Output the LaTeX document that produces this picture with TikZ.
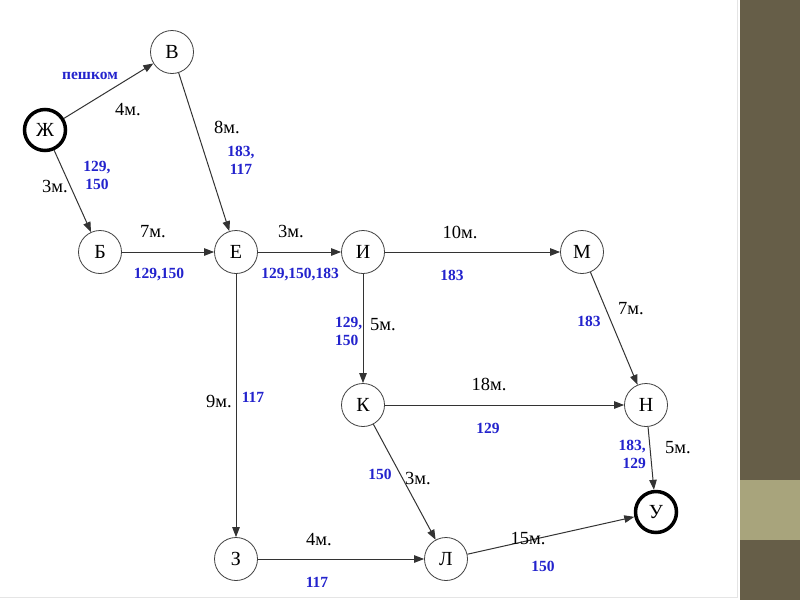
\documentclass[tikz,border=0pt]{standalone}
\usepackage{fontspec}
\setmainfont{Liberation Serif}
\usetikzlibrary{arrows.meta}
\definecolor{stripdark}{RGB}{102,94,72}
\definecolor{striptan}{RGB}{168,164,124}
\definecolor{routeblue}{RGB}{35,35,205}
\tikzset{
  vert/.style={circle, draw=black!75, line width=0.8pt, minimum size=43pt, inner sep=0pt, fill=white, font=\fontsize{20}{20}\selectfont},
  endvert/.style={vert, draw=black, line width=3.5pt, minimum size=41pt},
  conn/.style={draw=black!80, line width=1pt, -{Triangle[length=10pt,width=7.5pt]}},
  dur/.style={font=\fontsize{18.5}{20}\selectfont, inner sep=0pt},
  rt/.style={font=\bfseries\fontsize{15.5}{18}\selectfont, text=routeblue, inner sep=0pt}
}
\begin{document}
\begin{tikzpicture}[x=1pt,y=-1pt]
\useasboundingbox (0,0) rectangle (800,600);
\fill[white] (0,0) rectangle (740,600);
\fill[stripdark] (740,0) rectangle (800,600);
\fill[striptan] (740,480) rectangle (800,540);
\draw[black!10, line width=1pt] (737,0) -- (737,597) -- (0,597);

\node[endvert] (zh) at (45,130) {Ж};
\node[vert] (v) at (172,52) {В};
\node[vert] (b) at (100,252) {Б};
\node[vert] (e) at (236,252) {Е};
\node[vert] (i) at (363,252) {И};
\node[vert] (m) at (582,252) {М};
\node[vert] (k) at (363,405) {К};
\node[vert] (n) at (646,405) {Н};
\node[vert] (z) at (236,559) {З};
\node[vert] (l) at (446,559) {Л};
\node[endvert] (u) at (656,512) {У};

\draw[conn] (zh) -- (v);
\draw[conn] (v) -- (e);
\draw[conn] (zh) -- (b);
\draw[conn] (b) -- (e);
\draw[conn] (e) -- (i);
\draw[conn] (i) -- (m);
\draw[conn] (e) -- (z);
\draw[conn] (i) -- (k);
\draw[conn] (m) -- (n);
\draw[conn] (k) -- (n);
\draw[conn] (k) -- (l);
\draw[conn] (z) -- (l);
\draw[conn] (n) -- (u);
\draw[conn] (l) -- (u);

% durations
\node[dur] (d1) at (128,110) {4м.};
\node[dur] (d2) at (55,187) {3м.};
\node[dur] (d3) at (227,127) {8м.};
\node[dur] (d4) at (153,232) {7м.};
\node[dur] (d5) at (291,232) {3м.};
\node[dur] (d6) at (460,232) {10м.};
\node[dur] (d7) at (383,325) {5м.};
\node[dur] (d8) at (631,309) {7м.};
\node[dur] (d9) at (489,384) {18м.};
\node[dur] (d10) at (678,448) {5м.};
\node[dur] (d11) at (219,401) {9м.};
\node[dur] (d12) at (418,478) {3м.};
\node[dur] (d13) at (319,540) {4м.};
\node[dur] (d14) at (528,539) {15м.};

% routes
\node[rt] (r1) at (90,76) {пешком};
\node[rt, align=center] (r2) at (97,175) {129,\\ 150};
\node[rt, align=center] (r3) at (241,160) {183,\\ 117};
\node[rt] (r4) at (159,275) {129,150};
\node[rt] (r5) at (300,275) {129,150,183};
\node[rt] (r6) at (452,275) {183};
\node[rt, align=left, anchor=west] (r7) at (335,331) {129,\\150};
\node[rt] (r8) at (589,321) {183};
\node[rt] (r9) at (253,397) {117};
\node[rt] (r10) at (488,428) {129};
\node[rt] (r11) at (380,474) {150};
\node[rt] (r12) at (317,582) {117};
\node[rt] (r13) at (543,566) {150};
\node[rt, align=right, anchor=east] (r14) at (646,454) {183,\\129};
\end{tikzpicture}
\end{document}
